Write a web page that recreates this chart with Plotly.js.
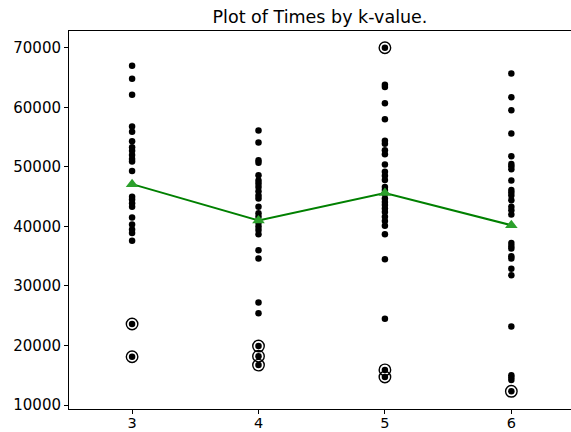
<!DOCTYPE html>
<html>
<head>
<meta charset="utf-8">
<script src="https://cdn.plot.ly/plotly-3.0.1.min.js"></script>
<style>html,body{margin:0;padding:0;background:#fff;}#chart{width:571px;height:432px;}</style>
</head>
<body>
<div id="chart"></div>
<script>
const kValues = [3, 4, 5, 6];
const times3 = [67000, 64800, 62100, 56800, 55900, 54300, 53300, 52700, 52000, 51300, 50900, 49300, 45000, 44500, 43900, 43300, 41500, 40300, 39500, 38900, 37600, 23600, 18100];
const times4 = [56100, 54100, 51100, 50700, 48600, 47700, 47200, 46600, 45900, 45200, 44700, 43300, 42200, 41600, 40600, 40000, 39400, 38700, 36000, 34600, 27200, 25400, 19900, 18200, 16700];
const times5 = [70000, 63800, 63400, 60700, 58000, 54400, 53900, 52800, 52100, 50400, 49200, 48500, 47800, 46600, 46100, 45500, 44700, 44100, 43600, 43000, 42400, 41600, 40900, 40100, 38700, 34500, 24500, 15900, 14700];
const times6 = [65700, 61700, 59500, 55600, 51800, 50500, 50100, 49600, 47700, 46100, 45700, 45200, 44400, 43300, 42700, 42000, 37200, 36700, 36300, 35000, 34600, 32900, 31800, 23200, 15000, 14600, 14200, 12300];
const outliers3 = [23600, 18100];
const outliers4 = [19900, 18200, 16700];
const outliers5 = [70000, 15900, 14700];
const outliers6 = [12300];
const meanTimes = [47100, 41000, 45600, 40200];
const yTicks = [10000, 20000, 30000, 40000, 50000, 60000, 70000];

const allTimes = [times3, times4, times5, times6];
const allOutliers = [outliers3, outliers4, outliers5, outliers6];

const dx = [], dy = [], ox = [], oy = [];
allTimes.forEach((arr, i) => arr.forEach(v => { dx.push(kValues[i]); dy.push(v); }));
allOutliers.forEach((arr, i) => arr.forEach(v => { ox.push(kValues[i]); oy.push(v); }));

const traces = [
  {x: dx, y: dy, type: 'scatter', mode: 'markers', marker: {color: '#000', size: 6.5}, hoverinfo: 'skip'},
  {x: ox, y: oy, type: 'scatter', mode: 'markers', marker: {color: 'rgba(0,0,0,0)', size: 11.5, line: {color: '#000', width: 1.4}}, hoverinfo: 'skip'},
  {x: kValues, y: meanTimes, type: 'scatter', mode: 'lines', line: {color: '#008000', width: 2}, hoverinfo: 'skip'},
  {x: kValues, y: meanTimes, type: 'scatter', mode: 'markers', marker: {color: '#2ca02c', size: 11, symbol: 'triangle-up'}, hoverinfo: 'skip'}
];

const layout = {
  width: 571, height: 432,
  margin: {l: 68.7, r: 0, t: 30.7, b: 23.3, pad: 0},
  showlegend: false,
  paper_bgcolor: '#fff', plot_bgcolor: '#fff',
  font: {family: 'DejaVu Sans', size: 15, color: '#000'},
  title: {text: 'Plot of Times by k-value.', x: 0.5, xref: 'paper', xanchor: 'center', y: 1 - 17/432, yref: 'container', yanchor: 'middle', font: {family: 'DejaVu Sans', size: 17.5, color: '#000'}},
  xaxis: {range: [2.501, 6.472], tickvals: kValues, ticktext: kValues.map(String), ticks: 'outside', ticklen: 4, tickwidth: 1, tickcolor: '#000', showline: true, mirror: true, linecolor: '#000', linewidth: 1, showgrid: false, zeroline: false, tickfont: {size: 14.5}, ticklabelstandoff: -3},
  yaxis: {range: [9330, 72820], tickvals: yTicks, ticktext: yTicks.map(String), ticks: 'outside', ticklen: 4, tickwidth: 1, tickcolor: '#000', showline: true, mirror: false, linecolor: '#000', linewidth: 1, showgrid: false, zeroline: false, tickfont: {size: 15}}
};

Plotly.newPlot('chart', traces, layout, {staticPlot: true, displayModeBar: false});
</script>
</body>
</html>
